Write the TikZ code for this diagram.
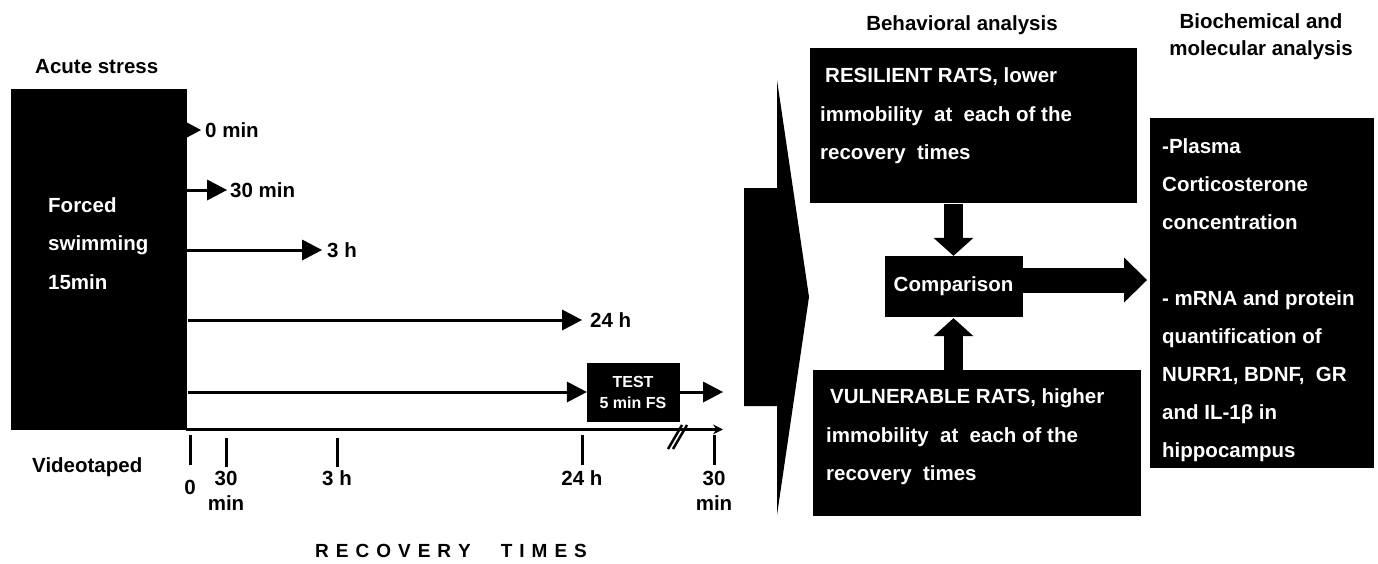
\documentclass[tikz,border=0pt]{standalone}
\usepackage{fontspec}
\setmainfont{Liberation Sans}
\usetikzlibrary{arrows.meta,calc}
\newcommand{\ls}{\hspace{7pt}}
\begin{document}
\begin{tikzpicture}[x=1pt,y=-1pt,
  txt/.style={font=\fontsize{20.5}{24}\selectfont\bfseries, inner sep=0pt},
  wtxt/.style={txt, text=white, align=left},
  boxtxt/.style={font=\fontsize{20.5}{38.5}\selectfont\bfseries},
  blk/.style={fill=black, draw=black, inner sep=0pt},
  tl/.style={line width=3pt, -{Triangle[length=20pt,width=21pt,line width=0pt]}},
  tlsmall/.style={line width=3pt, -{Triangle[length=14pt,width=15pt,line width=0pt]}},
  axis/.style={line width=3pt, -{Stealth[length=10pt,width=10pt,line width=0pt]}},
  tick/.style={line width=3pt},
  fatv/.style={line width=19pt, -{Triangle[length=18pt,width=40pt,line width=0pt]}},
  fath/.style={line width=25pt, -{Triangle[length=23pt,width=45pt,line width=0pt]}}
]
\useasboundingbox (0,0) rectangle (1378,563);

% ---- left part
\node[txt, anchor=west] (acute) at (35,67) {Acute stress};
\node[blk, minimum width=175pt, minimum height=340pt, anchor=north west] (fs) at (11,89) {};
\node[wtxt, boxtxt, anchor=west] (fstext) at (48,243.5) {Forced\\swimming\\15min};

\node[txt, anchor=west] (t0) at (205,130) {0 min};
\node[txt, anchor=west] (t30) at (230,190) {30 min};
\node[txt, anchor=west] (t3) at (327,250) {3 h};
\node[txt, anchor=west] (t24) at (590,320) {24 h};

\draw[tlsmall] (fs.east |- t0) -- ([xshift=-4pt]t0.west);
\draw[tl] (fs.east |- t30) -- ([xshift=-3pt]t30.west);
\draw[tl] (fs.east |- t3) -- ([xshift=-5pt]t3.west);
\draw[tl] ([xshift=2pt]fs.east |- t24) -- ([xshift=-8pt]t24.west);

\node[blk, minimum width=92pt, minimum height=58pt, text=white, align=center,
      font=\fontsize{16}{21}\selectfont\bfseries] (test) at (633,392) {TEST\\5 min FS};
\draw[tl] ([xshift=2pt]fs.east |- test) -- (test.west);
\coordinate (tend) at (723,392);
\draw[tl] (test.east) -- (tend);

% ---- time axis
\coordinate (axend) at (723,430);
\draw[axis] (fs.south east) -- (fs.south east -| axend);
\draw[line width=2.5pt] (668,449) -- (682,425);
\draw[line width=2.5pt] (673,449) -- (687,425);

\draw[tick] (190,435) -- (190,465);
\draw[tick] (226,438) -- (226,467);
\draw[tick] (337,438) -- (337,467);
\draw[tick] (582,435) -- (582,465);
\draw[tick] (714,435) -- (714,465);

\node[txt] (l0) at (190,487) {0};
\node[txt] (l30a) at (226,478) {30};
\node[txt] (l30b) at (226,503) {min};
\node[txt] (l3h) at (337,478) {3 h};
\node[txt] (l24h) at (582,478) {24 h};
\node[txt] (le30a) at (714,478) {30};
\node[txt] (le30b) at (714,503) {min};

\node[txt, anchor=west] (vid) at (32,467) {Videotaped};
\node[txt, font=\fontsize{19}{22}\selectfont\bfseries, anchor=west] (rt) at (315,551)
  {R\ls E\ls C\ls O\ls V\ls E\ls R\ls Y\hspace{30pt}T\ls I\ls M\ls E\ls S};

% ---- big arrow
\fill (744,188) -- (777,188) -- (777,80) -- (809,297) -- (777,515) -- (777,406) -- (744,406) -- cycle;

% ---- behavioural analysis
\node[txt] (beh) at (962,25) {Behavioral analysis};
\node[blk, minimum width=326pt, minimum height=154pt] (res) at (973,125) {};
\node[wtxt, boxtxt, anchor=west] (restext) at (820,115.7)
  {\hspace{5pt}RESILIENT RATS, lower\\immobility\ \ at\ \ each of the\\recovery\ \ times};

\node[blk, txt, minimum width=137pt, minimum height=60pt, text=white] (cmp) at (953.5,286) {Comparison};

\node[blk, minimum width=327pt, minimum height=145pt] (vul) at (976.5,442.5) {};
\node[wtxt, boxtxt, anchor=west] (vultext) at (826,437)
  {\hspace{4pt}VULNERABLE RATS, higher\\immobility\ \ at\ \ each of the\\recovery\ \ times};

\draw[fatv] ([yshift=-2pt]res.south -| cmp.north) -- (cmp.north);
\draw[fatv] (vul.north -| cmp.south) -- ([yshift=-2pt]cmp.south);
\coordinate (rtip) at (1147,280);
\draw[fath] (cmp.east |- rtip) -- (rtip);

% ---- biochemical analysis
\node[txt, align=center, font=\fontsize{20.5}{27}\selectfont\bfseries] (biot) at (1261,36.5)
  {Biochemical and\\molecular analysis};
\node[blk, minimum width=223pt, minimum height=349pt] (bio) at (1261.5,292.5) {};
\node[wtxt, font=\fontsize{20.5}{38}\selectfont\bfseries, anchor=west] (biotext) at (1162,300)
  {-Plasma\\Corticosterone\\concentration\\\mbox{}\\- mRNA and protein\\quantification of\\NURR1, BDNF,\ \ GR\\and IL-1β in\\hippocampus};
\end{tikzpicture}
\end{document}
